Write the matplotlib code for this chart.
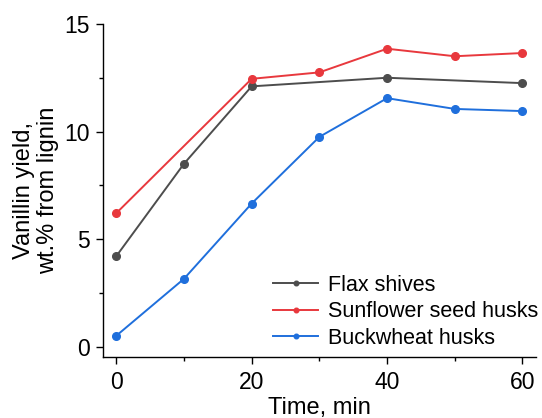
import matplotlib
matplotlib.use("Agg")
import matplotlib.pyplot as plt
from matplotlib.ticker import MultipleLocator

plt.rcParams['font.family'] = ['Liberation Sans', 'DejaVu Sans']

# time, min
flax_t = [0, 10, 20, 40, 60]
flax_y = [4.2, 8.5, 12.1, 12.5, 12.25]

sunflower_t = [0, 20, 30, 40, 50, 60]
sunflower_y = [6.2, 12.45, 12.75, 13.85, 13.5, 13.65]

buckwheat_t = [0, 10, 20, 30, 40, 50, 60]
buckwheat_y = [0.5, 3.15, 6.65, 9.75, 11.55, 11.05, 10.95]

names = ['Flax shives', 'Sunflower seed husks', 'Buckwheat husks']
colors = ['#4d4d4d', '#e8383d', '#1f6fdc']

fig = plt.figure(figsize=(5.42, 4.18), dpi=100)
ax = fig.add_axes([0.1895, 0.1452, 0.7995, 0.7974])

series = [(flax_t, flax_y), (sunflower_t, sunflower_y), (buckwheat_t, buckwheat_y)]
for (t, y), name, c in zip(series, names, colors):
    ax.plot(t, y, '-o', color=c, lw=1.4, markersize=5.5, label=name)

ax.set_xlim(-2, 62)
ax.set_ylim(-0.5, 15)
ax.xaxis.set_major_locator(MultipleLocator(20))
ax.xaxis.set_minor_locator(MultipleLocator(10))
ax.yaxis.set_major_locator(MultipleLocator(5))
ax.yaxis.set_minor_locator(MultipleLocator(2.5))
ax.tick_params(which='major', length=5, width=1, labelsize=16.5, pad=4)
ax.tick_params(which='minor', length=3, width=1)
ax.tick_params(axis='x', which='major', pad=5)

for s in ['top', 'right']:
    ax.spines[s].set_visible(False)
for s in ['left', 'bottom']:
    ax.spines[s].set_linewidth(1)

ax.set_xlabel('Time, min', fontsize=17, labelpad=2)
ax.set_ylabel('Vanillin yield,\nwt.% from lignin', fontsize=17, labelpad=4,
              linespacing=1.15)

leg = ax.legend(loc='lower right', fontsize=15.5, frameon=False, markerscale=0.6,
                handlelength=2.1, handletextpad=0.45, labelspacing=0.25,
                borderaxespad=0.0, bbox_to_anchor=(1.025, 0.0))

fig.savefig('out.png', dpi=100)
